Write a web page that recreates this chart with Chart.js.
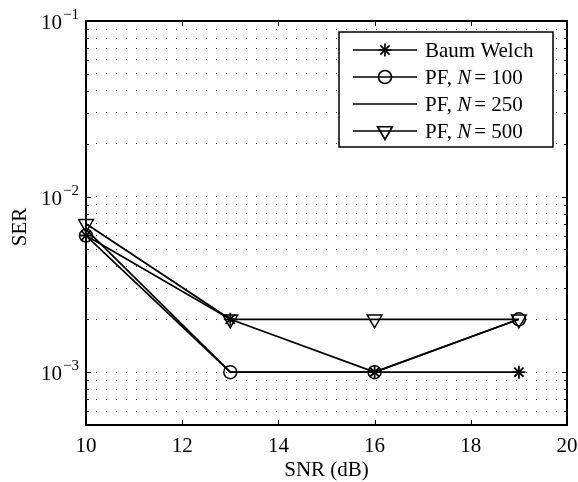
<!DOCTYPE html>
<html>
<head>
<meta charset="utf-8">
<script src="https://cdn.jsdelivr.net/npm/chart.js@4/dist/chart.umd.min.js"></script>
<style>
  html, body { margin: 0; padding: 0; background: #fff; }
  canvas { display: block; }
</style>
</head>
<body>
<canvas id="serChart" width="578" height="482"></canvas>
<script>
// SNR points and SER values
const snr = [10, 13, 16, 19];
const baumWelch = [0.006, 0.002, 0.001, 0.001];
const pf100 = [0.006, 0.001, 0.001, 0.002];
const pf250 = [0.0065, 0.001, 0.001, 0.002];
const pf500 = [0.007, 0.002, 0.002, 0.002];

const seriesNames = ['Baum Welch', 'PF, N = 100', 'PF, N = 250', 'PF, N = 500'];
const xTicks = [10, 12, 14, 16, 18, 20];
const yDecades = [1e-3, 1e-2, 1e-1];
const yExponents = ['\u22123', '\u22122', '\u22121'];
const yMin = 5e-4;
const yMax = 0.1;

// dotted grid at every 1..9 x decade inside the range
const yGrid = [];
for (let d = -4; d <= -1; d++) {
  for (let m = 1; m <= 9; m++) {
    const v = m * Math.pow(10, d);
    if (v >= yMin * 0.999 && v <= yMax * 1.001) yGrid.push(v);
  }
}

const FONT = '"Liberation Serif", "Times New Roman", serif';

function toPoints(vals) {
  return snr.map((x, i) => ({ x: x, y: vals[i] }));
}

const baseSet = {
  borderColor: '#000',
  backgroundColor: 'rgba(0,0,0,0)',
  borderWidth: 1.7,
  pointBorderColor: '#000',
  pointBackgroundColor: 'rgba(0,0,0,0)',
  pointBorderWidth: 1.5,
  tension: 0,
  clip: false
};

const datasets = [
  { ...baseSet, label: seriesNames[0], data: toPoints(baumWelch), pointStyle: 'star', pointRadius: 6.5, pointBorderWidth: 1.8 },
  { ...baseSet, label: seriesNames[1], data: toPoints(pf100), pointStyle: 'circle', pointRadius: 6.5 },
  { ...baseSet, label: seriesNames[2], data: toPoints(pf250), pointStyle: false, pointRadius: 0 },
  { ...baseSet, label: seriesNames[3], data: toPoints(pf500), pointStyle: 'triangle', pointRadius: 8.5, pointRotation: 180 }
];

function drawMarker(ctx, ds, x, y) {
  if (!ds.pointStyle) return;
  ctx.save();
  ctx.strokeStyle = '#000';
  ctx.fillStyle = 'rgba(0,0,0,0)';
  Chart.helpers.drawPoint(ctx, {
    pointStyle: ds.pointStyle,
    rotation: ds.pointRotation || 0,
    radius: ds.pointRadius,
    borderWidth: ds.pointBorderWidth
  }, x, y);
  ctx.restore();
}

const decorPlugin = {
  id: 'decor',
  afterDraw(chart) {
    const ctx = chart.ctx;
    const a = chart.chartArea;
    const xs = chart.scales.x;
    const ys = chart.scales.y;
    ctx.save();

    // frame
    ctx.strokeStyle = '#000';
    ctx.lineWidth = 2;
    ctx.strokeRect(a.left, a.top, a.right - a.left, a.bottom - a.top);

    // inward ticks
    ctx.lineWidth = 1;
    xTicks.forEach(v => {
      const px = Math.round(xs.getPixelForValue(v)) + 0.5;
      ctx.beginPath();
      ctx.moveTo(px, a.bottom); ctx.lineTo(px, a.bottom - 5);
      ctx.moveTo(px, a.top); ctx.lineTo(px, a.top + 5);
      ctx.stroke();
    });
    yGrid.forEach(v => {
      const py = Math.round(ys.getPixelForValue(v)) + 0.5;
      const len = yDecades.includes(v) ? 5 : 3;
      ctx.beginPath();
      ctx.moveTo(a.left, py); ctx.lineTo(a.left + len, py);
      ctx.moveTo(a.right, py); ctx.lineTo(a.right - len, py);
      ctx.stroke();
    });

    // x tick labels
    ctx.fillStyle = '#000';
    ctx.font = '21px ' + FONT;
    ctx.textAlign = 'center';
    ctx.textBaseline = 'alphabetic';
    xTicks.forEach(v => {
      ctx.fillText(String(v), xs.getPixelForValue(v), 452);
    });

    // y tick labels: 10 with superscript exponent
    yDecades.forEach((v, i) => {
      const py = ys.getPixelForValue(v);
      ctx.font = '21px ' + FONT;
      ctx.textAlign = 'right';
      ctx.fillText('10', 62, py + 8);
      ctx.font = '15px ' + FONT;
      ctx.textAlign = 'left';
      ctx.fillText(yExponents[i], 63, py - 2);
    });

    // axis titles
    ctx.font = '21px ' + FONT;
    ctx.textAlign = 'center';
    ctx.fillText('SNR (dB)', (a.left + a.right) / 2, 476);
    ctx.save();
    ctx.translate(26, (a.top + a.bottom) / 2 + 4);
    ctx.rotate(-Math.PI / 2);
    ctx.fillText('SER', 0, 0);
    ctx.restore();

    // legend box
    const lx = 339, ly = 32, lw = 214, lh = 115;
    ctx.fillStyle = '#fff';
    ctx.fillRect(lx, ly, lw, lh);
    ctx.strokeStyle = '#000';
    ctx.lineWidth = 1.5;
    ctx.strokeRect(lx, ly, lw, lh);

    const rowY = [50, 77, 104, 131];
    chart.data.datasets.forEach((ds, i) => {
      const y = rowY[i];
      ctx.strokeStyle = '#000';
      ctx.lineWidth = 1.7;
      ctx.beginPath();
      ctx.moveTo(353, y); ctx.lineTo(417, y);
      ctx.stroke();
      drawMarker(ctx, ds, 385, y);

      ctx.fillStyle = '#000';
      ctx.textAlign = 'left';
      ctx.textBaseline = 'middle';
      let x = 425;
      const name = seriesNames[i];
      if (name.indexOf('N') === 4) {
        ctx.font = '21px ' + FONT;
        ctx.fillText('PF, ', x, y + 1);
        x += ctx.measureText('PF, ').width;
        ctx.font = 'italic 21px ' + FONT;
        ctx.fillText('N', x, y + 1);
        x += ctx.measureText('N').width + 3;
        ctx.font = '21px ' + FONT;
        ctx.fillText(name.slice(6), x, y + 1);
      } else {
        ctx.font = '21px ' + FONT;
        ctx.fillText(name, x, y + 1);
      }
    });

    ctx.restore();
  }
};

new Chart(document.getElementById('serChart').getContext('2d'), {
  type: 'line',
  data: { datasets: datasets },
  options: {
    responsive: false,
    animation: false,
    layout: { padding: { top: 21, right: 11, left: 0, bottom: 0 } },
    plugins: { legend: { display: false }, tooltip: { enabled: false } },
    scales: {
      x: {
        type: 'linear',
        min: 10,
        max: 20,
        grid: { display: false },
        border: { display: false },
        ticks: { display: false },
        afterFit: s => { s.height = 57; }
      },
      y: {
        type: 'logarithmic',
        min: yMin,
        max: yMax,
        ticks: { display: false },
        grid: { color: 'rgba(0,0,0,0.75)', lineWidth: 1, drawTicks: false },
        border: { display: false, dash: [1, 9] },
        afterBuildTicks: s => { s.ticks = yGrid.map(v => ({ value: v })); },
        afterFit: s => { s.width = 86; }
      }
    }
  },
  plugins: [decorPlugin]
});
</script>
</body>
</html>
